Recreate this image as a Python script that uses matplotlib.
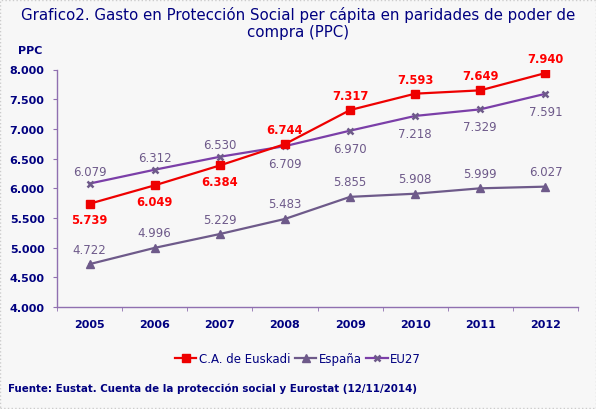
import matplotlib.pyplot as plt
import matplotlib.patches as patches

# Datos
anios = ['2005', '2006', '2007', '2008', '2009', '2010', '2011', '2012']
euskadi = [5739, 6049, 6384, 6744, 7317, 7593, 7649, 7940]
espana = [4722, 4996, 5229, 5483, 5855, 5908, 5999, 6027]
eu27 = [6079, 6312, 6530, 6709, 6970, 7218, 7329, 7591]
y_ticks = [4000, 4500, 5000, 5500, 6000, 6500, 7000, 7500, 8000]

# posicion de etiquetas: 1 arriba, -1 abajo
pos_euskadi = [-1, -1, -1, 1, 1, 1, 1, 1]
pos_eu27 = [1, 1, 1, -1, -1, -1, -1, -1]


def fmt(v):
    return f'{v:,}'.replace(',', '.')


navy = '#000080'
rojo = '#EE0000'
gris_morado = '#6E5A8A'
morado = '#7B3FA8'
eje = '#9070B0'
fondo = '#F7F7F7'

fig = plt.figure(figsize=(5.96, 4.10), dpi=100)
fig.patch.set_facecolor(fondo)
ax = fig.add_axes([57 / 596, 1 - 308 / 410, 521 / 596, 237.5 / 410])
ax.set_facecolor(fondo)

x = list(range(len(anios)))
ax.plot(x, euskadi, color=rojo, lw=1.6, marker='s', ms=5.5, label='C.A. de Euskadi', zorder=4)
ax.plot(x, espana, color=gris_morado, lw=1.6, marker='^', ms=5.5, label='España', zorder=3)
ax.plot(x, eu27, color=morado, lw=1.6, marker='x', ms=4.5, mew=1.8, mec=gris_morado,
        label='EU27', zorder=3)

for i in x:
    off = 10.5 if pos_euskadi[i] > 0 else -11.5
    ax.annotate(fmt(euskadi[i]), (i, euskadi[i]), xytext=(0, off), textcoords='offset points',
                ha='center', va='center', color='#FF0000', fontsize=8.3, fontweight='bold')
    ax.annotate(fmt(espana[i]), (i, espana[i]), xytext=(0, 10.8), textcoords='offset points',
                ha='center', va='center', color=gris_morado, fontsize=8.5)
    off = 8.8 if pos_eu27[i] > 0 else -12.5
    ax.annotate(fmt(eu27[i]), (i, eu27[i]), xytext=(0, off), textcoords='offset points',
                ha='center', va='center', color=gris_morado, fontsize=8.5)

ax.set_xlim(-0.5, len(anios) - 0.5)
ax.set_ylim(4000, 8000)
ax.set_yticks(y_ticks)
ax.set_yticklabels([fmt(v) for v in y_ticks])
ax.set_xticks(x)
ax.set_xticklabels(anios)
ax.set_xticks([i + 0.5 for i in range(-1, len(anios))], minor=True)
ax.tick_params(axis='x', which='major', length=0, pad=9)
ax.tick_params(axis='x', which='minor', length=3, color=eje, direction='out')
ax.tick_params(axis='y', length=3, color=eje, pad=6)
for lbl in ax.get_xticklabels() + ax.get_yticklabels():
    lbl.set_color(navy)
    lbl.set_fontweight('bold')
    lbl.set_fontsize(8)

for s in ['top', 'right']:
    ax.spines[s].set_visible(False)
for s in ['left', 'bottom']:
    ax.spines[s].set_color(eje)
    ax.spines[s].set_linewidth(1)

fig.text(0.5, 1 - 15 / 410, 'Grafico2. Gasto en Protección Social per cápita en paridades de poder de',
         ha='center', va='center', color=navy, fontsize=10.8)
fig.text(0.5, 1 - 33 / 410, 'compra (PPC)', ha='center', va='center', color=navy, fontsize=10.8)
fig.text(30 / 596, 1 - 51 / 410, 'PPC', ha='center', va='center', color=navy, fontsize=8, fontweight='bold')

leg = fig.legend(loc='center', bbox_to_anchor=(298 / 596, 1 - 360 / 410), ncol=3, frameon=False,
                 fontsize=8.5, handlelength=1.8, handletextpad=0.2, columnspacing=0.4)
for t in leg.get_texts():
    t.set_color(navy)

fig.text(8 / 596, 1 - 389 / 410, 'Fuente: Eustat. Cuenta de la protección social y Eurostat (12/11/2014)',
         ha='left', va='center', color=navy, fontsize=7.4, fontweight='bold')

# borde punteado
fig.patches.append(patches.Rectangle((0, 1 / 410), 1, 408 / 410, transform=fig.transFigure, fill=False,
                                     ec='#CCCCCC', lw=1, ls=':'))

fig.savefig('out.png', dpi=100, facecolor=fig.get_facecolor())
